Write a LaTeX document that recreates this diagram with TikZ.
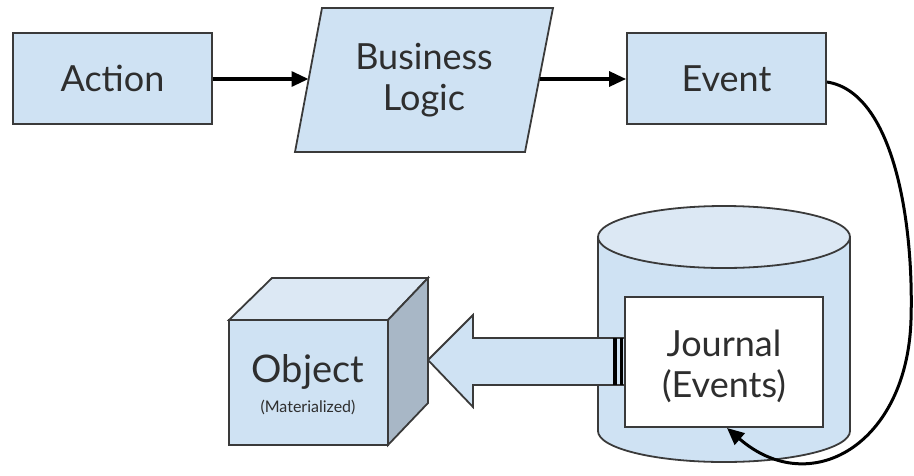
\documentclass[tikz,border=0pt]{standalone}
\usepackage{fontspec}
\setmainfont{Lato}
\usetikzlibrary{arrows.meta}
\definecolor{lblue}{HTML}{CFE2F3}
\definecolor{ltop}{HTML}{DCE8F4}
\definecolor{lside}{HTML}{A8B7C6}
\definecolor{edge}{HTML}{3A3A3A}
\definecolor{txt}{HTML}{2E2E2E}
\tikzset{
  boxstyle/.style={draw=edge, line width=1.8pt, fill=lblue, text=txt, font=\fontsize{36}{41}\selectfont, align=center, inner sep=0pt},
  flow/.style={line width=3.2pt, -{Triangle[length=17pt,width=15pt]}},
  shapeline/.style={draw=edge, line width=1.8pt, line join=miter},
  txtstyle/.style={text=txt, font=\fontsize{36}{41}\selectfont, align=center, inner sep=0pt}
}
\begin{document}
\begin{tikzpicture}[x=1pt,y=-1pt]
\useasboundingbox (0,0) rectangle (914,475);
% top row
\node[boxstyle, minimum width=199pt, minimum height=91pt] (action) at (112.5,78.5) {Action};
\path[shapeline, fill=lblue] (322,8) -- (553,8) -- (525,152) -- (295,152) -- cycle;
\node[txtstyle] (bl) at (424,80) {Business\\Logic};
\coordinate (blw) at (308.5,79);
\coordinate (ble) at (539.5,79);
\node[boxstyle, minimum width=199pt, minimum height=91pt] (event) at (726.5,78.5) {Event};
\draw[flow] (action.east |- blw) -- (blw);
\draw[flow] (ble) -- (event.west |- ble);
% cylinder
\path[shapeline, fill=lblue] (598,237) -- (598,431) arc[start angle=180, end angle=0, x radius=126, y radius=31] -- (850,237) -- cycle;
\path[shapeline, fill=ltop] (724,237) ellipse[x radius=126, y radius=31];
\node[draw=edge, line width=1.8pt, fill=white, minimum width=198pt, minimum height=130pt, inner sep=0pt] (journalbox) at (724,362) {};
\node[txtstyle] (journal) at (724,366) {Journal\\(Events)};
% block arrow
\path[shapeline, fill=lblue] (428,360) -- (473,315) -- (473,338) -- (625,338) -- (625,385) -- (473,385) -- (473,407) -- cycle;
\fill[black] (613,338) rectangle (617,385);
\fill[black] (619.5,338) rectangle (623,385);
% cube
\path[shapeline, fill=ltop] (229,320) -- (272,278) -- (428,278) -- (388,320) -- cycle;
\path[shapeline, fill=lside] (388,320) -- (428,278) -- (428,403) -- (388,445) -- cycle;
\node[draw=edge, line width=1.8pt, fill=lblue, minimum width=159pt, minimum height=125pt, inner sep=0pt] (cube) at (308.5,382.5) {};
\node[txtstyle, font=\fontsize{38}{41}\selectfont] (obj) at (308,372) {Object};
\node[text=txt, font=\fontsize{16}{18}\selectfont, inner sep=0pt] (mat) at (308,407) {(Materialized)};
% curve
\draw[line width=3pt, -{Triangle[length=17pt,width=15pt]}] (event.east |- 0,82) .. controls (893,92) and (914,220) .. (911,320) .. controls (907,445) and (810,500) .. (727,428);
\end{tikzpicture}
\end{document}
